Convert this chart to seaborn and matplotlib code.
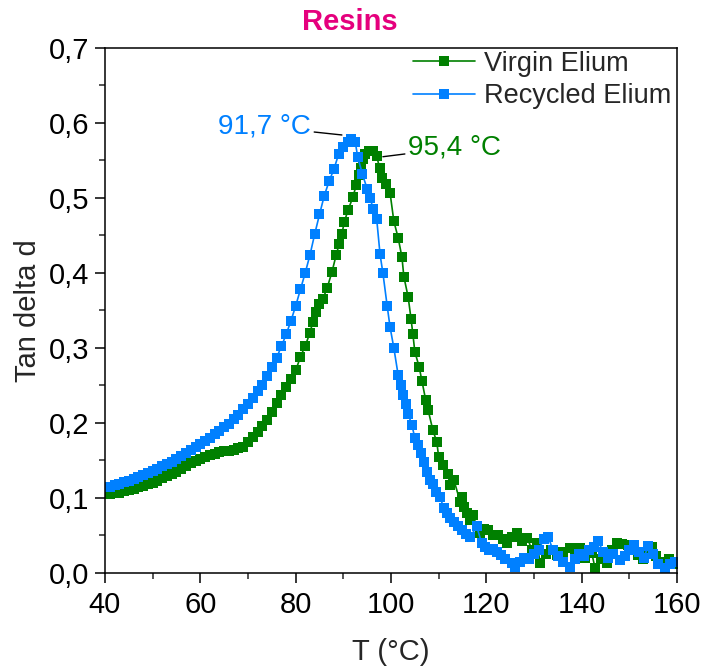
import matplotlib
matplotlib.use("Agg")
import matplotlib.pyplot as plt
from matplotlib.ticker import MultipleLocator, FuncFormatter
import seaborn as sns
import pandas as pd
import numpy as np

sns.set_style("ticks")
plt.rcParams['font.family'] = ['Liberation Sans', 'DejaVu Sans']

# Recycled Elium (blue)
t_recycled = [41, 42, 43, 44, 45, 46, 47, 48, 49, 50, 51, 52, 53, 54, 55, 56, 57, 58, 59, 60,
              61, 62, 63, 64, 65, 66, 67, 68, 69, 70, 71, 72, 73, 74, 75, 76, 77, 78, 79, 80,
              81, 82, 83, 84, 85, 86, 87, 88, 89, 90, 91, 91.7, 92.5, 93, 94, 95, 95.6, 96.3, 97,
              97.7, 98.3, 99.2, 99.8, 100.6, 101.5, 102.0, 102.5, 103.1, 103.6, 104.4, 105, 105.6,
              106.3, 106.9, 107.5, 108.2, 108.8, 109.5, 110.3, 111.1, 111.8, 112.4, 113.2, 114,
              114.9, 115.8, 116.6, 118, 119, 119.7, 120.5, 121.3, 122.2, 123, 124, 125.4, 126, 127,
              128, 129, 130, 131, 132, 133, 134, 135, 136, 137.5, 138.5, 139.5, 140.5, 141.5, 142.5,
              143.5, 144.5, 145.5, 146.5, 148, 149, 150, 151, 152, 153, 154, 155, 156, 157.5, 158.5, 159.5]
tan_recycled = [0.115, 0.117, 0.119, 0.121, 0.123, 0.125, 0.128, 0.130, 0.133, 0.136, 0.139, 0.142,
                0.145, 0.148, 0.152, 0.156, 0.160, 0.164, 0.168, 0.172, 0.176, 0.180, 0.185, 0.189,
                0.194, 0.199, 0.205, 0.211, 0.218, 0.225, 0.233, 0.242, 0.251, 0.262, 0.274, 0.287,
                0.302, 0.318, 0.336, 0.356, 0.378, 0.400, 0.424, 0.452, 0.478, 0.503, 0.522, 0.538,
                0.558, 0.568, 0.574, 0.578, 0.575, 0.555, 0.532, 0.512, 0.500, 0.485, 0.472,
                0.425, 0.400, 0.356, 0.328, 0.300, 0.264, 0.250, 0.237, 0.225, 0.212, 0.197, 0.180,
                0.170, 0.160, 0.148, 0.135, 0.124, 0.118, 0.108, 0.101, 0.086, 0.080, 0.073, 0.068,
                0.063, 0.057, 0.052, 0.048, 0.062, 0.040, 0.035, 0.030, 0.032, 0.028, 0.024, 0.018,
                0.013, 0.008, 0.015, 0.020, 0.018, 0.025, 0.030, 0.045, 0.048, 0.030, 0.022, 0.015,
                0.008, 0.018, 0.025, 0.022, 0.030, 0.035, 0.042, 0.028, 0.020, 0.025, 0.017, 0.022,
                0.030, 0.037, 0.028, 0.020, 0.036, 0.025, 0.012, 0.007, 0.012, 0.015]

# Virgin Elium (green)
t_virgin = [41, 42, 43, 44, 45, 46, 47, 48, 49, 50, 51, 52, 53, 54, 55, 56, 57, 58, 59, 60,
            61, 62, 63, 64, 65, 66, 67, 68, 69, 70, 71, 72, 73, 74, 75, 76, 77, 78, 79, 80,
            81, 82, 83, 83.6, 84.3, 85, 85.7, 86.6, 87.6, 88.5, 89.1, 89.7, 90.2, 91, 92, 92.7,
            93.2, 93.7, 94.2, 94.6, 95.4, 96.2, 97, 97.6, 98.1, 98.9, 99.8, 100.6, 101.5, 102.3,
            102.7, 103.6, 104.2, 104.6, 105, 105.9, 106.5, 107.3, 107.8, 108.8, 109.6, 110.0,
            110.9, 111.9, 112.4, 113.2, 114.5, 114.9, 115.3, 116.0, 116.6, 117.2, 118.0, 118.7,
            119.5, 120.4, 121.5, 122.5, 123.4, 124.3, 125.4, 126.5, 127.5, 128.6, 129.6, 130.6,
            131.3, 132.5, 133.6, 134.8, 136, 137.5, 138.5, 139.6, 140.8, 142.1, 142.8, 144, 145.3,
            146.3, 147.4, 148.5, 149.7, 150.8, 151.8, 152.8, 153.8, 154.7, 155.6, 156.4, 157.5,
            158.3, 159.2, 160]
tan_virgin = [0.105, 0.106, 0.107, 0.109, 0.110, 0.112, 0.114, 0.116, 0.118, 0.120, 0.123, 0.126,
              0.129, 0.132, 0.135, 0.139, 0.143, 0.146, 0.149, 0.152, 0.155, 0.157, 0.159, 0.161,
              0.162, 0.163, 0.164, 0.166, 0.168, 0.174, 0.181, 0.188, 0.196, 0.204, 0.215, 0.227,
              0.237, 0.248, 0.258, 0.270, 0.288, 0.303, 0.320, 0.335, 0.348, 0.358, 0.365, 0.380,
              0.401, 0.424, 0.438, 0.452, 0.468, 0.484, 0.501, 0.517, 0.530, 0.540, 0.552, 0.558,
              0.562, 0.562, 0.556, 0.540, 0.527, 0.518, 0.507, 0.469, 0.447, 0.421, 0.395, 0.368,
              0.339, 0.318, 0.295, 0.275, 0.256, 0.230, 0.217, 0.190, 0.175, 0.155, 0.144, 0.132,
              0.117, 0.124, 0.095, 0.101, 0.088, 0.080, 0.071, 0.077, 0.062, 0.053, 0.058, 0.057,
              0.050, 0.051, 0.045, 0.040, 0.048, 0.053, 0.042, 0.047, 0.030, 0.040, 0.013, 0.025,
              0.030, 0.024, 0.028, 0.033, 0.025, 0.033, 0.020, 0.027, 0.007, 0.018, 0.013, 0.030,
              0.040, 0.038, 0.037, 0.030, 0.024, 0.018, 0.028, 0.035, 0.022, 0.015, 0.010, 0.018,
              0.015, 0.012]

green = '#008000'
blue = '#0080FF'
magenta = '#E5007D'

fig = plt.figure(figsize=(7.08, 6.70), dpi=100)
ax = fig.add_axes([0.1483, 0.1448, 0.8079, 0.7836])

sns.lineplot(ax=ax, x=t_virgin, y=tan_virgin, color=green, marker='s', markersize=7.8,
             markeredgewidth=0, linewidth=1.2, sort=False, label='Virgin Elium')
sns.lineplot(ax=ax, x=t_recycled, y=tan_recycled, color=blue, marker='s', markersize=7.8,
             markeredgewidth=0, linewidth=1.2, sort=False, label='Recycled Elium')

ax.set_xlim(40, 160)
ax.set_ylim(0, 0.7)
ax.xaxis.set_major_locator(MultipleLocator(20))
ax.xaxis.set_minor_locator(MultipleLocator(10))
ax.yaxis.set_major_locator(MultipleLocator(0.1))
ax.yaxis.set_minor_locator(MultipleLocator(0.05))
ax.yaxis.set_major_formatter(FuncFormatter(lambda v, p: f"{v:.1f}".replace('.', ',')))
ax.xaxis.set_major_formatter(FuncFormatter(lambda v, p: f"{v:.0f}"))

for s in ax.spines.values():
    s.set_visible(True)
    s.set_linewidth(1.1)
    s.set_color('black')
ax.tick_params(which='major', direction='out', length=7, width=1.1, labelsize=21, pad=4, colors='black')
ax.tick_params(axis='x', which='major', pad=6)
ax.tick_params(which='minor', direction='out', length=4, width=1.1)
ax.tick_params(top=False, right=False, which='both')

ax.set_xlabel('T (°C)', fontsize=21, labelpad=14)
ax.set_ylabel('Tan delta d', fontsize=21, labelpad=5)

fig.text(350/708, 1 - 22/670, 'Resins', color=magenta, fontsize=21, fontweight='bold',
         ha='center', va='center')

# peak annotations
ax.annotate('91,7 °C', xy=(89.7, 0.584), xytext=(83.2, 0.595), color=blue, fontsize=20,
            ha='right', va='center',
            arrowprops=dict(arrowstyle='-', color='black', lw=1, shrinkA=0, shrinkB=0))
ax.annotate('95,4 °C', xy=(98.3, 0.555), xytext=(103.6, 0.567), color=green, fontsize=20,
            ha='left', va='center',
            arrowprops=dict(arrowstyle='-', color='black', lw=1, shrinkA=0, shrinkB=0))

ax.legend(loc='upper left', bbox_to_anchor=(0.538, 0.995), frameon=False, fontsize=19.5,
          borderpad=0, borderaxespad=0, handlelength=2.3, handletextpad=0.35, labelspacing=0.25)

fig.savefig('out.png', dpi=100)
